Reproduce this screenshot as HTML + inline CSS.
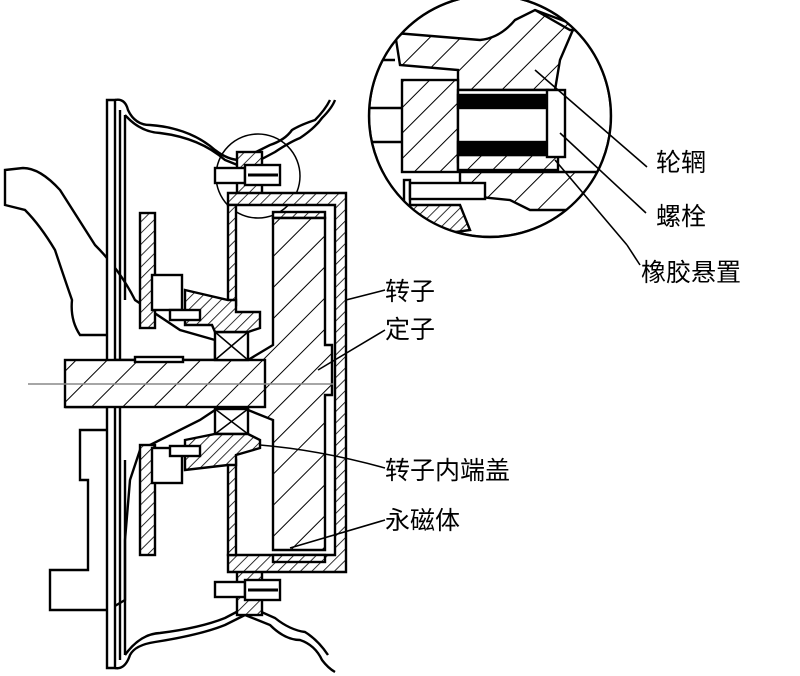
<!DOCTYPE html>
<html><head><meta charset="utf-8"><style>
html,body{margin:0;padding:0;background:#fff}
svg{display:block}
text{font-family:"Liberation Sans","Noto Sans CJK SC","WenQuanYi Zen Hei",sans-serif;font-size:25px;fill:#000}
</style></head><body>
<svg width="800" height="676" viewBox="0 0 800 676" xmlns="http://www.w3.org/2000/svg">
<defs>
<pattern id="h" width="18" height="18" patternUnits="userSpaceOnUse" patternTransform="rotate(45)">
<rect width="18" height="18" fill="#fff"/><line x1="0" y1="0" x2="0" y2="18" stroke="#000" stroke-width="2"/></pattern>
<pattern id="hs" width="8" height="8" patternUnits="userSpaceOnUse" patternTransform="rotate(45)">
<rect width="8" height="8" fill="#fff"/><line x1="0" y1="0" x2="0" y2="8" stroke="#000" stroke-width="1.6"/></pattern>
<pattern id="hb" width="22" height="22" patternUnits="userSpaceOnUse" patternTransform="rotate(45)">
<rect width="22" height="22" fill="#fff"/><line x1="0" y1="0" x2="0" y2="22" stroke="#000" stroke-width="2"/></pattern>
<clipPath id="cc"><circle cx="490" cy="116" r="121"/></clipPath>
</defs>
<g fill="none" stroke="#000" stroke-width="2.4">
<path d="M5,170 L23,168 Q40,168 60,190 L95,245 Q120,270 135,300 L180,330 L215,340 L215,360 L115,360 L113,335 L80,335 Q70,320 72,300 Q65,280 55,250 Q40,225 25,210 L5,205 Z" fill="#fff"/>
<path d="M65,407 L113,407 L113,430 L80,430 L80,480 L88,480 L88,570 L50,570 L50,610 L108,610 L125,600 L125,540 L130,480 L140,450 L200,420 L215,410" fill="none"/>
<path d="M107,100 L107,668 L115,668 L115,100 Z" fill="#fff"/>
<line x1="120" y1="110" x2="120" y2="660"/>
<line x1="125" y1="115" x2="125" y2="300"/>
<line x1="125" y1="460" x2="125" y2="655"/>
<path d="M115,100 Q125,98 128,110 Q135,125 150,125 Q190,128 215,150 Q228,160 240,160 L270,145 Q285,140 292,130 Q300,125 315,120 Q325,110 330,100" />
<path d="M125,115 Q140,132 160,133 Q200,138 225,160 L245,168 L275,152 Q290,142 300,138 Q315,128 322,118 Q332,108 335,100" />
<path d="M115,668 Q125,670 130,655 Q135,645 155,642 Q200,635 225,625 L245,615 L270,625 Q285,640 300,640 Q315,645 322,660 Q328,668 335,672" />
<path d="M125,655 Q140,634 160,633 Q200,628 225,618 L248,606 L275,618 Q290,630 305,632 Q318,640 328,655" />
<circle cx="258" cy="176" r="42" stroke-width="1.5"/>
<rect x="237" y="152" width="25" height="45" fill="url(#hs)"/>
<rect x="215" y="168" width="30" height="15" fill="#fff"/>
<rect x="245" y="165" width="35" height="20" fill="#fff"/>
<line x1="248" y1="175" x2="278" y2="175" stroke-width="3"/>
<rect x="237" y="570" width="25" height="45" fill="url(#hs)"/>
<rect x="215" y="582" width="30" height="15" fill="#fff"/>
<rect x="245" y="580" width="35" height="20" fill="#fff"/>
<line x1="248" y1="590" x2="278" y2="590" stroke-width="3"/>
<path d="M228,193 L346,193 L346,572 L228,572 L228,555 L335,555 L335,205 L228,205 Z" fill="url(#hs)"/>
<rect x="228" y="205" width="8" height="100" fill="url(#hs)"/>
<rect x="228" y="460" width="8" height="95" fill="url(#hs)"/>
<rect x="273" y="212" width="52" height="6" fill="url(#hs)"/>
<rect x="273" y="555" width="52" height="7" fill="url(#hs)"/>
<path d="M273,218 L325,218 L325,345 L332,345 L332,395 L325,395 L325,550 L273,550 L273,420 L248,410 L248,360 L273,345 Z" fill="url(#hb)"/>
<rect x="65" y="360" width="200" height="47" fill="url(#hb)"/>
<rect x="135" y="357" width="48" height="5" fill="#fff"/>
<rect x="215" y="332" width="33" height="28" fill="#fff"/>
<path d="M215,332 L248,360 M248,332 L215,360" stroke-width="1.5"/>
<rect x="215" y="409" width="33" height="25" fill="#fff"/>
<path d="M215,409 L248,434 M248,409 L215,434" stroke-width="1.5"/>
<path d="M185,290 L228,300 L236,300 L236,312 L260,312 L260,328 L248,332 L215,332 L212,325 L185,325 Z" fill="url(#hs)"/>
<rect x="140" y="213" width="15" height="115" fill="url(#hs)"/>
<rect x="152" y="275" width="30" height="35" fill="#fff"/>
<rect x="170" y="310" width="30" height="10" fill="#fff"/>
<path d="M185,440 L215,434 L248,434 L260,440 L260,448 L236,455 L236,465 L228,465 L185,470 Z" fill="url(#hs)"/>
<rect x="140" y="445" width="15" height="110" fill="url(#hs)"/>
<rect x="152" y="448" width="30" height="35" fill="#fff"/>
<rect x="170" y="446" width="30" height="10" fill="#fff"/>
</g>
<line x1="28" y1="384" x2="333" y2="384" stroke="#888" stroke-width="1.5"/>
<g clip-path="url(#cc)" stroke="#000" stroke-width="2.4">
<circle cx="490" cy="116" r="121" fill="#fff"/>
<path d="M395,33 L480,40 Q500,38 515,20 L535,10 L575,25 L560,60 L555,90 L458,90 L458,70 L400,65 Z" fill="url(#hb)"/>
<path d="M535,10 L570,30 L600,30" fill="none"/>
<rect x="402" y="80" width="56" height="92" fill="url(#h)"/>
<rect x="458" y="90" width="90" height="72" fill="#fff"/>
<rect x="458" y="155" width="100" height="15" fill="url(#h)"/>
<path d="M460,172 L620,172 L620,210 L530,210 L510,200 L460,195 Z" fill="url(#hb)"/>
<path d="M400,205 L460,205 L470,230 L400,240 Z" fill="url(#hs)"/>
<rect x="404" y="180" width="6" height="30" fill="#fff"/>
<rect x="410" y="183" width="75" height="16" fill="#fff"/>
<rect x="458" y="95" width="90" height="13" fill="#000"/>
<rect x="458" y="142" width="90" height="13" fill="#000"/>
<rect x="547" y="90" width="18" height="67" fill="#fff"/>
<line x1="360" y1="108" x2="402" y2="108"/>
<line x1="360" y1="142" x2="402" y2="142"/>
<line x1="360" y1="60" x2="395" y2="60"/>
</g>
<circle cx="490" cy="116" r="121" fill="none" stroke="#000" stroke-width="2.4"/>
<g stroke="#000" stroke-width="1.6" fill="none">
<line x1="535" y1="70" x2="647" y2="167"/>
<line x1="560" y1="133" x2="646" y2="213"/>
<line x1="555" y1="160" x2="627" y2="245"/>
<line x1="627" y1="245" x2="640" y2="265"/>
<line x1="346" y1="300" x2="385" y2="290"/>
<line x1="318" y1="370" x2="385" y2="330"/>
<path d="M260,445 Q320,450 385,468"/>
<line x1="290" y1="548" x2="385" y2="520"/>
</g>
<text x="656" y="171">轮辋</text>
<text x="656" y="225">螺栓</text>
<text x="641" y="281">橡胶悬置</text>
<text x="385" y="300">转子</text>
<text x="385" y="338">定子</text>
<text x="385" y="479">转子内端盖</text>
<text x="385" y="529">永磁体</text>
</svg>
</body></html>
